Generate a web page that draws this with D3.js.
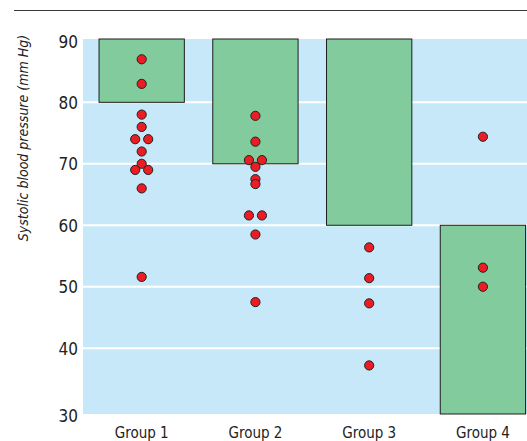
<!DOCTYPE html>
<html>
<head>
<meta charset="utf-8">
<script src="https://cdn.jsdelivr.net/npm/d3@7"></script>
<style>
	body { margin: 0; background: #fff; }
	svg text { font-family: "Liberation Sans Narrow", "Arial Narrow", "DejaVu Sans Condensed", sans-serif; fill: #222; }
</style>
</head>
<body>
<div id="chart"></div>
<script>
var WIDTH = 527;
var HEIGHT = 441;

// data
var groups = ["Group 1", "Group 2", "Group 3", "Group 4"];
var barLow  = [80, 70, 60, 30];
var barHigh = [90, 90, 90, 60];
var pressures = [
	[87, 83, 78, 76, 74, 74, 72, 70, 69, 69, 66, 51.6],
	[77.8, 73.6, 70.6, 70.6, 69.5, 67.5, 66.7, 61.6, 61.6, 58.5, 47.5],
	[56.4, 51.4, 47.3, 37.2],
	[74.4, 53.1, 50]
];
var yTicks = [30, 40, 50, 60, 70, 80, 90];
var gridTicks = [40, 50, 60, 70, 80];

var plot = {left: 83, right: 527, top: 39, bottom: 414};

var svg = d3.select('#chart').append('svg')
	.attr('width', WIDTH).attr('height', HEIGHT);

// top rule
svg.append('line')
	.attr('x1', 14).attr('x2', WIDTH).attr('y1', 10.5).attr('y2', 10.5)
	.attr('stroke', '#3a3a3a').attr('stroke-width', 1.2);

var x = d3.scaleBand().domain(groups).range([70.6, 554]).padding(0.25);
var y = d3.scaleLinear().domain([29.3, 90.3]).range([plot.bottom, plot.top]);
// open-ended bars run to the edge of the plot
function yBar(v) {
	if(v >= 90) return plot.top;
	if(v <= 30) return plot.bottom;
	return y(v);
}

svg.append('rect')
	.attr('x', plot.left).attr('y', plot.top)
	.attr('width', plot.right - plot.left).attr('height', plot.bottom - plot.top)
	.attr('fill', '#c6e8f8');

svg.append('g').selectAll('line').data(gridTicks).join('line')
	.attr('x1', plot.left).attr('x2', plot.right)
	.attr('y1', d => y(d)).attr('y2', d => y(d))
	.attr('stroke', '#fff').attr('stroke-width', 2);

svg.append('g').selectAll('rect').data(groups).join('rect')
	.attr('x', d => x(d))
	.attr('y', (d, i) => yBar(barHigh[i]))
	.attr('width', x.bandwidth())
	.attr('height', (d, i) => yBar(barLow[i]) - yBar(barHigh[i]))
	.attr('fill', '#81cb9c')
	.attr('stroke', '#1e1e1e').attr('stroke-width', 1);

// points; equal values in one group sit side by side
var points = [];
pressures.forEach(function(vals, gi) {
	vals.forEach(function(v, j) {
		let same = vals.filter(w => w == v).length;
		let k = vals.slice(0, j).filter(w => w == v).length;
		points.push({group: groups[gi], value: v, dx: same > 1 ? (k - (same - 1) / 2) * 13 : 0});
	});
});

svg.append('g').selectAll('circle').data(points).join('circle')
	.attr('cx', d => x(d.group) + x.bandwidth() / 2 + d.dx)
	.attr('cy', d => y(d.value))
	.attr('r', 4.6)
	.attr('fill', '#ec1c24')
	.attr('stroke', '#222').attr('stroke-width', 1);

// y axis labels
var yAxis = svg.append('g').attr('transform', 'translate(' + (plot.left - 5) + ',0)')
	.call(d3.axisLeft(y).tickValues(yTicks).tickSize(0).tickPadding(0));
yAxis.selectAll('path').remove();
yAxis.selectAll('text').attr('font-size', 17).attr('dy', '0.36em')
	.attr('y', d => d == 30 ? plot.bottom + 1 - y(30) : (d == 90 ? 1 : 0));

// x axis labels
var xAxis = svg.append('g').attr('transform', 'translate(0,' + plot.bottom + ')')
	.call(d3.axisBottom(x).tickSize(0).tickPadding(0));
xAxis.selectAll('path').remove();
xAxis.selectAll('text').attr('font-size', 15).attr('dy', 0).attr('y', 24);

svg.append('text')
	.attr('transform', 'translate(28,138) rotate(-90)')
	.attr('text-anchor', 'middle')
	.attr('font-size', 14).attr('font-style', 'italic')
	.text('Systolic blood pressure (mm Hg)');
</script>
</body>
</html>
